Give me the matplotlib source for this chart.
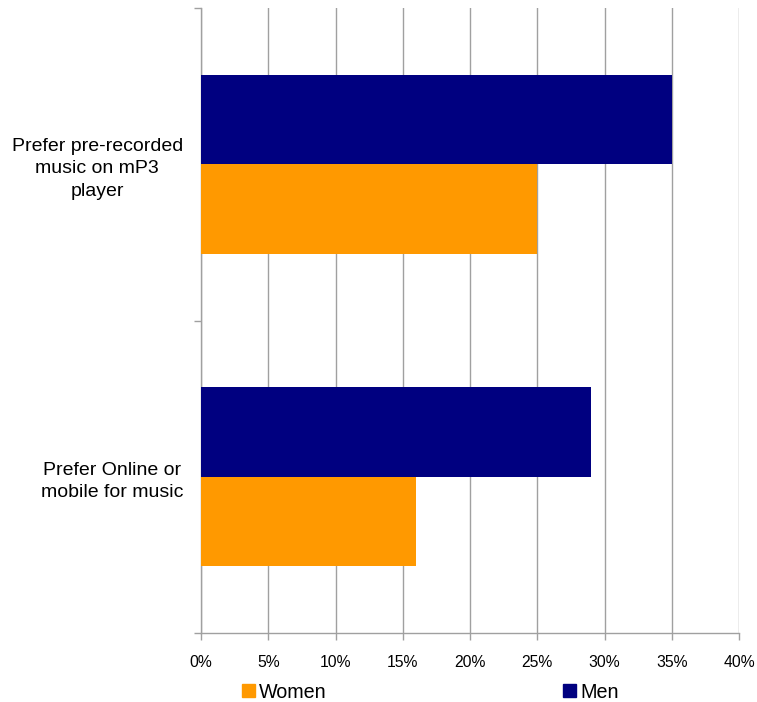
import numpy as np
import matplotlib.pyplot as plt
from matplotlib.patches import Patch

plt.rcParams['font.family'] = ['Liberation Sans', 'DejaVu Sans']

# data, top category first
categories = ['Prefer pre-recorded\nmusic on mP3\nplayer', 'Prefer Online or\nmobile for music']
men = [35, 29]
women = [25, 16]
xticks = [0, 5, 10, 15, 20, 25, 30, 35, 40]

navy = '#000080'
orange = '#ff9900'
grey = '#a0a0a0'

fig = plt.figure(figsize=(7.57, 7.02), dpi=100)
ax = fig.add_axes([201/757, 1-633/702, (739-201)/757, (633-8)/702])

centers = np.arange(len(categories))[::-1] + 0.5
h = 0.287
ax.barh(centers, men, height=h, align='edge', color=navy, label='Men', zorder=3)
ax.barh(centers - h, women, height=h, align='edge', color=orange, label='Women', zorder=3)

ax.set_xlim(0, 40)
ax.set_ylim(0, len(categories))
ax.set_xticks(xticks)
ax.set_xticklabels([f'{t}%' for t in xticks], fontsize=11.3)
ax.xaxis.grid(True, color=grey, linewidth=1, zorder=0)

ax.set_yticks(np.arange(len(categories)+1))
ax.set_yticklabels([])
ax.set_yticks(centers, minor=True)
ax.set_yticklabels(categories, minor=True, fontsize=14, multialignment='center',
                   linespacing=1.4)
ax.tick_params(axis='y', which='minor', length=0, pad=13)
ax.tick_params(axis='y', which='major', length=5, color=grey, width=1)
ax.tick_params(axis='x', length=5, color=grey, width=1, pad=11)

for s in ['top', 'right']:
    ax.spines[s].set_visible(False)
for s in ['left', 'bottom']:
    ax.spines[s].set_color(grey)
    ax.spines[s].set_linewidth(1)

handles = [Patch(color=orange, label='Women'), Patch(color=navy, label='Men')]
fig.legend(handles=handles, loc='center left', bbox_to_anchor=(242/757, 10/702),
           ncol=2, frameon=False, fontsize=14.2, handlelength=0.66, handleheight=0.66,
           handletextpad=0.2, columnspacing=12.0, borderpad=0, borderaxespad=0)

fig.savefig('out.png', dpi=100)
